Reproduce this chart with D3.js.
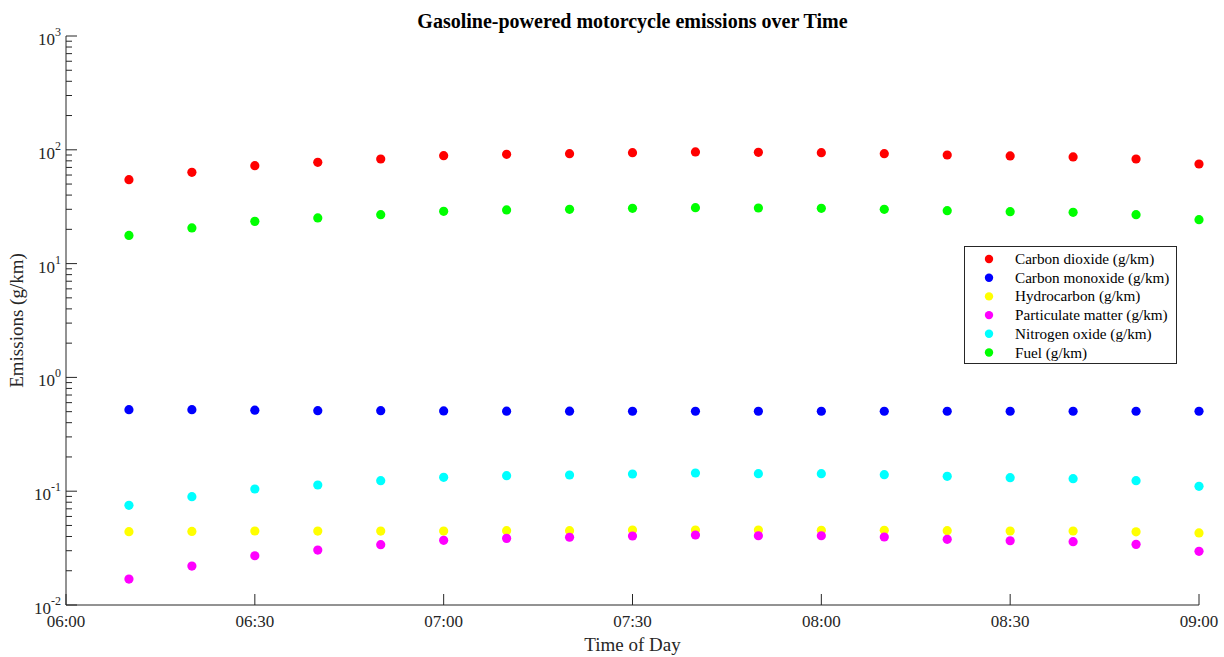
<!DOCTYPE html>
<html>
<head>
<meta charset="utf-8">
<script src="https://cdn.jsdelivr.net/npm/d3@7"></script>
<style>
  html, body { margin: 0; padding: 0; background: #fff; }
  svg { display: block; font-family: "Liberation Serif", "Times New Roman", serif; }
</style>
</head>
<body>
<svg id="chart" width="1224" height="657"></svg>
<script>
const times = ["06:10","06:20","06:30","06:40","06:50","07:00","07:10","07:20","07:30",
               "07:40","07:50","08:00","08:10","08:20","08:30","08:40","08:50","09:00"];
const carbonDioxide = [54.6, 63.4, 72.5, 77.6, 83.0, 88.8, 91.3, 92.5, 94.4, 95.7, 95.1, 94.4, 92.5, 90.0, 88.3, 86.5, 83.0, 75.0];
const carbonMonoxide = [0.52, 0.52, 0.515, 0.51, 0.51, 0.507, 0.505, 0.505, 0.504, 0.504, 0.504, 0.504, 0.504, 0.504, 0.504, 0.504, 0.504, 0.504];
const hydrocarbon = [0.0441, 0.0443, 0.0447, 0.0446, 0.0446, 0.0446, 0.0450, 0.0450, 0.0456, 0.0456, 0.0456, 0.0453, 0.0453, 0.0450, 0.0447, 0.0447, 0.0440, 0.0430];
const particulate = [0.0169, 0.0220, 0.0271, 0.0304, 0.0339, 0.0370, 0.0385, 0.0394, 0.0404, 0.0412, 0.0406, 0.0406, 0.0396, 0.0378, 0.0367, 0.0360, 0.0341, 0.0296];
const nitrogenOxide = [0.0752, 0.0895, 0.1045, 0.1134, 0.1237, 0.1325, 0.1368, 0.1388, 0.1416, 0.1445, 0.1425, 0.1425, 0.1397, 0.1352, 0.1315, 0.1288, 0.1237, 0.1104];
const fuel = [17.7, 20.6, 23.5, 25.2, 26.9, 28.8, 29.6, 30.0, 30.6, 31.0, 30.8, 30.6, 30.0, 29.2, 28.6, 28.2, 26.9, 24.3];
const seriesNames = ["Carbon dioxide (g/km)", "Carbon monoxide (g/km)", "Hydrocarbon (g/km)",
                     "Particulate matter (g/km)", "Nitrogen oxide (g/km)", "Fuel (g/km)"];
const seriesColors = ["#ff0000", "#0000ff", "#ffff00", "#ff00ff", "#00ffff", "#00ff00"];
const xTickLabels = ["06:00","06:30","07:00","07:30","08:00","08:30","09:00"];
const yTickExponents = [-2, -1, 0, 1, 2, 3];

(function () {
const seriesValues = [carbonDioxide, carbonMonoxide, hydrocarbon, particulate, nitrogenOxide, fuel];
const parseT = d3.timeParse("%H:%M");

const svg = d3.select("#chart");
const pL = 66, pR = 1199, pT = 36, pB = 605;
const axisColor = "#262626";

const x = d3.scaleTime().domain([parseT("06:00"), parseT("09:00")]).range([pL, pR]);
const y = d3.scaleLog().domain([1e-2, 1e3]).range([pB, pT]);

// Y axis (ticks inward)
const yMajor = yTickExponents.map(e => Math.pow(10, e));
const yMinor = [];
for (let e = -2; e < 3; e++) for (let m = 2; m <= 9; m++) yMinor.push(m * Math.pow(10, e));

const yAxisG = svg.append("g");
yAxisG.append("line").attr("x1", pL).attr("x2", pL).attr("y1", y(1e3)).attr("y2", y(1e-2))
  .attr("stroke", axisColor).attr("stroke-width", 1);
yAxisG.selectAll(".ymaj").data(yMajor).join("line")
  .attr("x1", pL).attr("x2", pL + 11).attr("y1", d => y(d)).attr("y2", d => y(d))
  .attr("stroke", axisColor);
yAxisG.selectAll(".ymin").data(yMinor).join("line")
  .attr("x1", pL).attr("x2", pL + 6).attr("y1", d => y(d)).attr("y2", d => y(d))
  .attr("stroke", axisColor);
const yLab = yAxisG.selectAll(".ylab").data(yTickExponents).join("text")
  .attr("x", pL - 5).attr("y", e => y(Math.pow(10, e)) + 9)
  .attr("text-anchor", "end").attr("fill", axisColor).attr("font-size", 17);
yLab.append("tspan").text("10");
yLab.append("tspan").attr("dy", -9).attr("font-size", 12).text(e => e);

// X axis (ticks inward)
const xAxisG = svg.append("g");
xAxisG.append("line").attr("x1", pL).attr("x2", pR).attr("y1", pB).attr("y2", pB)
  .attr("stroke", axisColor);
xAxisG.selectAll(".xt").data(xTickLabels).join("line")
  .attr("x1", d => x(parseT(d))).attr("x2", d => x(parseT(d)))
  .attr("y1", pB).attr("y2", pB - 11).attr("stroke", axisColor);
xAxisG.selectAll(".xl").data(xTickLabels).join("text")
  .attr("x", d => x(parseT(d))).attr("y", pB + 22)
  .attr("text-anchor", "middle").attr("fill", axisColor).attr("font-size", 17)
  .text(d => d);

// Axis titles
svg.append("text").attr("x", (pL + pR) / 2).attr("y", 651)
  .attr("text-anchor", "middle").attr("fill", axisColor).attr("font-size", 19)
  .text("Time of Day");
svg.append("text").attr("transform", `translate(23, ${(pT + pB) / 2}) rotate(-90)`)
  .attr("text-anchor", "middle").attr("fill", axisColor).attr("font-size", 19)
  .text("Emissions (g/km)");
svg.append("text").attr("x", (pL + pR) / 2).attr("y", 28)
  .attr("text-anchor", "middle").attr("fill", "#000").attr("font-size", 20)
  .attr("font-weight", "bold").text("Gasoline-powered motorcycle emissions over Time");

// Points
seriesValues.forEach((vals, si) => {
  svg.append("g").selectAll("circle").data(vals).join("circle")
    .attr("cx", (d, i) => x(parseT(times[i])))
    .attr("cy", d => y(d))
    .attr("r", 4.6)
    .attr("fill", seriesColors[si]);
});

// Legend
const lg = svg.append("g");
const lx = 964, ly = 246, lw = 212, lh = 117;
lg.append("rect").attr("x", lx + 0.5).attr("y", ly + 0.5).attr("width", lw).attr("height", lh)
  .attr("fill", "#fff").attr("stroke", axisColor).attr("stroke-width", 1);
seriesNames.forEach((name, i) => {
  const cy = 259 + i * 18.7;
  lg.append("circle").attr("cx", 989).attr("cy", cy).attr("r", 4.2).attr("fill", seriesColors[i]);
  lg.append("text").attr("x", 1015).attr("y", cy + 5).attr("font-size", 15.2)
    .attr("fill", "#000").text(name);
});
})();
</script>
</body>
</html>
